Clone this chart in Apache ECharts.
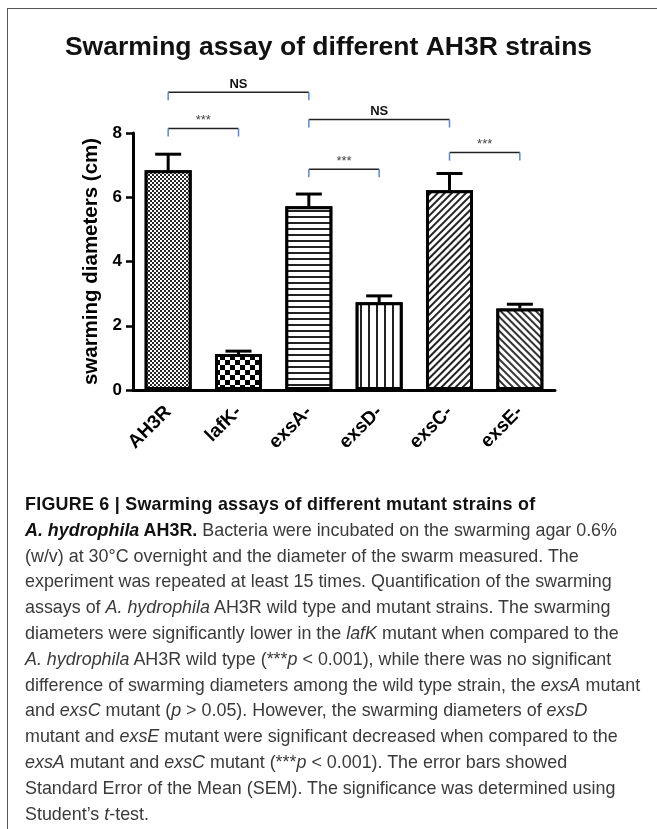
<!DOCTYPE html>
<html>
<head>
<meta charset="utf-8">
<script src="https://cdn.jsdelivr.net/npm/echarts@6/dist/echarts.min.js"></script>
<style>
    html, body { margin: 0; padding: 0; background: #fff; }
    #wrap { position: relative; width: 657px; height: 829px; overflow: hidden; }
    #chart { position: absolute; left: 0; top: 0; width: 657px; height: 829px; }
    #frame { position: absolute; left: 7px; top: 8px; width: 660px; height: 840px;
             border-left: 1.5px solid #555; border-top: 1.5px solid #555; }
    #caption { position: absolute; left: 25px; top: 492px; white-space: nowrap;
               font-family: "Liberation Sans", Arial, sans-serif; font-size: 17.9px;
               line-height: 25.8px; color: #3a3a3a; }
    #caption b { color: #111; }
    #caption .head { letter-spacing: 0.25px; }
</style>
</head>
<body>
<div id="wrap">
    <div id="chart"></div>
    <div id="frame"></div>
    <div id="caption">
        <b class="head">FIGURE 6 | Swarming assays of different mutant strains of</b><br>
        <b><i>A. hydrophila</i> AH3R.</b> Bacteria were incubated on the swarming agar 0.6%<br>
        (w/v) at 30°C overnight and the diameter of the swarm measured. The<br>
        experiment was repeated at least 15 times. Quantification of the swarming<br>
        assays of <i>A. hydrophila</i> AH3R wild type and mutant strains. The swarming<br>
        diameters were significantly lower in the <i>lafK</i> mutant when compared to the<br>
        <i>A. hydrophila</i> AH3R wild type (***<i>p</i> &lt; 0.001), while there was no significant<br>
        difference of swarming diameters among the wild type strain, the <i>exsA</i> mutant<br>
        and <i>exsC</i> mutant (<i>p</i> &gt; 0.05). However, the swarming diameters of <i>exsD</i><br>
        mutant and <i>exsE</i> mutant were significant decreased when compared to the<br>
        <i>exsA</i> mutant and <i>exsC</i> mutant (***<i>p</i> &lt; 0.001). The error bars showed<br>
        Standard Error of the Mean (SEM). The significance was determined using<br>
        Student’s <i>t</i>-test.
    </div>
</div>
<script>
// values
const categories = ['AH3R', 'lafK-', 'exsA-', 'exsD-', 'exsC-', 'exsE-'];
const meanValues = [6.84, 1.12, 5.72, 2.73, 6.22, 2.54];
const semValues = [0.50, 0.09, 0.38, 0.20, 0.52, 0.13];

// significance brackets
const bracketFrom = [0, 0, 2, 2, 4];
const bracketTo = [1, 2, 4, 3, 5];
const bracketLevel = [8.14, 9.27, 8.42, 6.87, 7.39];
const bracketText = ['***', 'NS', 'NS', '***', '***'];

const FONT = '"Liberation Sans", Arial, sans-serif';

// fill pattern of every bar
const patterns = [
    { symbol: 'rect', symbolSize: 1, color: '#262626', backgroundColor: '#fff',
      dashArrayX: [[2, 2], [0, 2, 2, 0]], dashArrayY: [2, 0] },
    { symbol: 'rect', symbolSize: 1, color: '#000', backgroundColor: '#fff',
      dashArrayX: [[5, 5], [0, 5, 5, 0]], dashArrayY: [5, 0] },
    { symbol: 'rect', symbolSize: 1, color: '#222', backgroundColor: '#fff',
      dashArrayX: [1, 0], dashArrayY: [2, 4] },
    { symbol: 'rect', symbolSize: 1, color: '#222', backgroundColor: '#fff',
      dashArrayX: [2, 6], dashArrayY: [1, 0] },
    { symbol: 'rect', symbolSize: 1, color: '#222', backgroundColor: '#fff',
      dashArrayX: [1, 0], dashArrayY: [2, 3], rotation: -Math.PI / 4 },
    { symbol: 'rect', symbolSize: 1, color: '#333', backgroundColor: '#fff',
      dashArrayX: [1, 0], dashArrayY: [2, 3], rotation: Math.PI / 4 }
];

const chart = echarts.init(document.getElementById('chart'));

function renderErrorBar(params, api) {
    var base = api.coord([api.value(0), api.value(1)]);
    var top = api.coord([api.value(0), api.value(2)]);
    var half = 13;
    var style = { stroke: '#000', lineWidth: 3 };
    return {
        type: 'group',
        children: [
            { type: 'line', shape: { x1: base[0], y1: base[1], x2: top[0], y2: top[1] }, style: style },
            { type: 'line', shape: { x1: top[0] - half, y1: top[1], x2: top[0] + half, y2: top[1] }, style: style }
        ]
    };
}

function renderBracket(params, api) {
    var a = api.coord([api.value(0), api.value(2)]);
    var b = api.coord([api.value(1), api.value(2)]);
    var drop = 8;
    var label = bracketText[params.dataIndex];
    var isNs = label === 'NS';
    return {
        type: 'group',
        children: [
            { type: 'line', shape: { x1: a[0], y1: a[1], x2: b[0], y2: b[1] },
              style: { stroke: '#222', lineWidth: 1.5 } },
            { type: 'line', shape: { x1: a[0], y1: a[1], x2: a[0], y2: a[1] + drop },
              style: { stroke: '#5b86d6', lineWidth: 1.5 } },
            { type: 'line', shape: { x1: b[0], y1: b[1], x2: b[0], y2: b[1] + drop },
              style: { stroke: '#5b86d6', lineWidth: 1.5 } },
            { type: 'text', x: (a[0] + b[0]) / 2, y: a[1] - 8,
              style: {
                  text: label, align: 'center', verticalAlign: 'middle',
                  fill: isNs ? '#111' : '#444',
                  font: isNs ? 'bold 13px "Liberation Sans Narrow", ' + FONT : '13px ' + FONT
              } }
        ]
    };
}

const option = {
    animation: false,
    backgroundColor: '#fff',
    title: {
        text: 'Swarming assay of different AH3R strains',
        left: 'center',
        top: 29,
        textStyle: { fontFamily: FONT, fontWeight: 'bold', fontSize: 26.5, color: '#111' }
    },
    grid: { left: 133, right: 102, top: 133, bottom: 439 },
    xAxis: {
        type: 'category',
        data: categories,
        axisLine: { lineStyle: { color: '#000', width: 3 } },
        axisTick: { alignWithLabel: true, length: 7, lineStyle: { color: '#000', width: 2.5 } },
        axisLabel: { rotate: 45, margin: 19, color: '#000', fontFamily: FONT,
                     fontWeight: 'bold', fontSize: 19 }
    },
    yAxis: {
        type: 'value',
        min: 0,
        max: 8,
        interval: 2,
        name: 'swarming diameters (cm)',
        nameLocation: 'middle',
        nameGap: 27,
        nameTextStyle: { fontFamily: FONT, fontWeight: 'bold', fontSize: 20.5, color: '#000' },
        splitLine: { show: false },
        axisLine: { show: true, lineStyle: { color: '#000', width: 3 } },
        axisTick: { show: true, length: 7, lineStyle: { color: '#000', width: 2.5 } },
        axisLabel: { margin: 11, color: '#000', fontFamily: FONT, fontWeight: 'bold', fontSize: 17 }
    },
    series: [
        {
            type: 'bar',
            barWidth: 47,
            data: meanValues.map(function (v, i) {
                return {
                    value: v,
                    itemStyle: { color: '#fff', borderColor: '#000', borderWidth: 3, decal: patterns[i] }
                };
            }),
            z: 2
        },
        {
            type: 'custom',
            renderItem: renderErrorBar,
            data: meanValues.map(function (v, i) { return [i, v, v + semValues[i]]; }),
            z: 3
        },
        {
            type: 'custom',
            renderItem: renderBracket,
            clip: false,
            encode: { x: [0, 1], y: 2 },
            data: bracketFrom.map(function (f, i) { return [f, bracketTo[i], bracketLevel[i]]; }),
            z: 4
        }
    ]
};

chart.setOption(option);
</script>
</body>
</html>
